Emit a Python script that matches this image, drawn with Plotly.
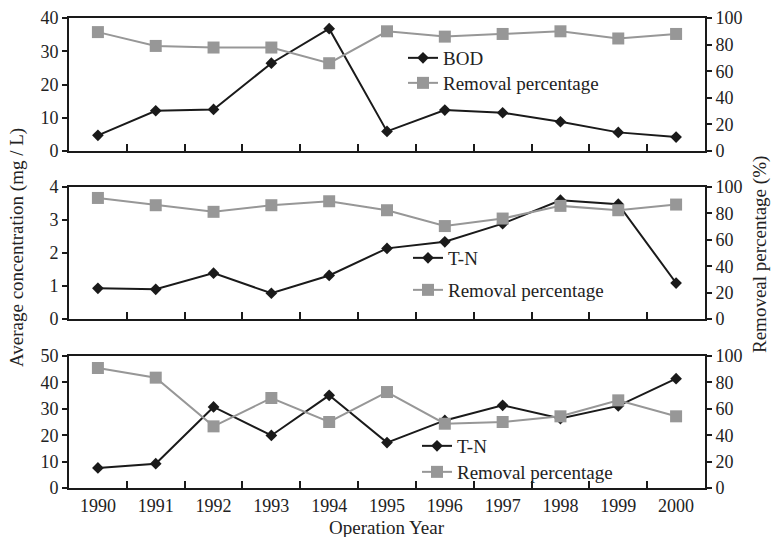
import plotly.graph_objects as go

years = ["1990", "1991", "1992", "1993", "1994", "1995", "1996", "1997", "1998", "1999", "2000"]

bod = [4.7, 12.1, 12.5, 26.4, 36.8, 5.9, 12.3, 11.5, 8.8, 5.6, 4.2]
bod_removal = [89.4, 79.0, 77.8, 77.8, 66.0, 90.0, 86.0, 88.0, 90.0, 84.6, 88.0]

tn1 = [0.93, 0.90, 1.39, 0.78, 1.32, 2.14, 2.34, 2.89, 3.60, 3.48, 1.09]
tn1_removal = [91.7, 86.2, 81.2, 86.2, 89.2, 82.4, 70.4, 76.1, 85.7, 82.4, 86.7]

tn2 = [7.6, 9.2, 30.7, 19.9, 35.1, 17.2, 25.6, 31.3, 26.3, 31.1, 41.4]
tn2_removal = [90.9, 83.6, 46.7, 68.2, 50.0, 72.7, 48.7, 50.0, 54.3, 66.4, 54.3]

left_ticks = [[0, 10, 20, 30, 40], [0, 1, 2, 3, 4], [0, 10, 20, 30, 40, 50]]
right_ticks = [0, 20, 40, 60, 80, 100]

W, H = 776, 537
FONT = "Liberation Serif"
BLACK = "#1a1a1a"
GRAY = "#979797"
TXT = "#222222"

def px(v):
    return v / W

def py(v):
    return 1 - v / H

panels = [
    (bod, bod_removal, "BOD", (18, 151), 40),
    (tn1, tn1_removal, "T-N", (187, 319), 4),
    (tn2, tn2_removal, "T-N", (356, 488), 50),
]
# legend left x, centre y of first item, centre y of second item
legend_pos = [(403, 58, 83), (408, 258, 290), (417, 446, 472)]

fig = go.Figure()
layout = {}
for i, (conc, rem, name, (top, bot), ymax) in enumerate(panels):
    xa = "x" if i == 0 else f"x{i+1}"
    yl_idx = 2 * i + 1
    yr_idx = 2 * i + 2
    yl = "y" if yl_idx == 1 else f"y{yl_idx}"
    yr = f"y{yr_idx}"
    leg_a = "legend" if i == 0 else f"legend{2*i+1}"
    leg_b = f"legend{2*i+2}"
    fig.add_trace(go.Scatter(
        x=years, y=conc, name=name, mode="lines+markers",
        xaxis=xa, yaxis=yl, legend=leg_a,
        line=dict(color=BLACK, width=2),
        marker=dict(symbol="diamond", size=9, color=BLACK),
    ))
    fig.add_trace(go.Scatter(
        x=years, y=rem, name="Removal percentage", mode="lines+markers",
        xaxis=xa, yaxis=yr, legend=leg_b,
        line=dict(color=GRAY, width=2),
        marker=dict(symbol="square", size=12, color=GRAY),
    ))
    xkey = "xaxis" if i == 0 else f"xaxis{i+1}"
    ylkey = "yaxis" if yl_idx == 1 else f"yaxis{yl_idx}"
    yrkey = f"yaxis{yr_idx}"
    layout[xkey] = dict(
        type="category", domain=[px(69), px(705)], anchor=yl,
        range=[-0.5, 10.5], showline=True, linecolor=BLACK, linewidth=2,
        mirror=True, ticks="inside", ticklen=7, tickwidth=2, tickcolor=BLACK,
        tickson="boundaries", showgrid=False, zeroline=False,
        showticklabels=(i == 2), automargin=False,
        tickfont=dict(family=FONT, size=18, color=TXT),
    )
    layout[ylkey] = dict(
        domain=[py(bot), py(top)], anchor=xa, range=[0, ymax],
        tickvals=left_ticks[i], showline=True, linecolor=BLACK, linewidth=2,
        ticks="outside", ticklen=5, tickwidth=2, tickcolor=BLACK,
        showgrid=False, zeroline=False, automargin=False,
        tickfont=dict(family=FONT, size=18, color=TXT),
    )
    layout[yrkey] = dict(
        overlaying=yl, side="right", anchor=xa, range=[0, 100],
        tickvals=right_ticks, showline=True, linecolor=BLACK, linewidth=2,
        ticks="outside", ticklen=5, tickwidth=2, tickcolor=BLACK,
        showgrid=False, zeroline=False, automargin=False,
        tickfont=dict(family=FONT, size=18, color=TXT),
    )
    lx, ly1, ly2 = legend_pos[i]
    for leg, ly in ((leg_a, ly1), (leg_b, ly2)):
        layout[leg] = dict(
            x=px(lx), y=py(ly), xanchor="left", yanchor="middle",
            bgcolor="rgba(0,0,0,0)", itemwidth=30,
            font=dict(family=FONT, size=19, color=TXT),
        )

fig.update_layout(
    width=W, height=H,
    margin=dict(l=0, r=0, t=0, b=0, pad=0, autoexpand=False),
    paper_bgcolor="white", plot_bgcolor="rgba(0,0,0,0)",
    showlegend=True,
    annotations=[
        dict(text="Average concentration (mg / L)", x=px(17), y=py(248),
             xref="paper", yref="paper", xanchor="center", yanchor="middle",
             textangle=-90, showarrow=False,
             font=dict(family=FONT, size=19, color=TXT)),
        dict(text="Removeal percentage (%)", x=px(760), y=py(255),
             xref="paper", yref="paper", xanchor="center", yanchor="middle",
             textangle=-90, showarrow=False,
             font=dict(family=FONT, size=19, color=TXT)),
        dict(text="Operation Year", x=px(387), y=py(527),
             xref="paper", yref="paper", xanchor="center", yanchor="middle",
             showarrow=False,
             font=dict(family=FONT, size=19, color=TXT)),
    ],
    **layout,
)

fig.write_html(
    "out.html",
    config={"displayModeBar": False},
    post_script="document.body.style.margin='0px';",
)
